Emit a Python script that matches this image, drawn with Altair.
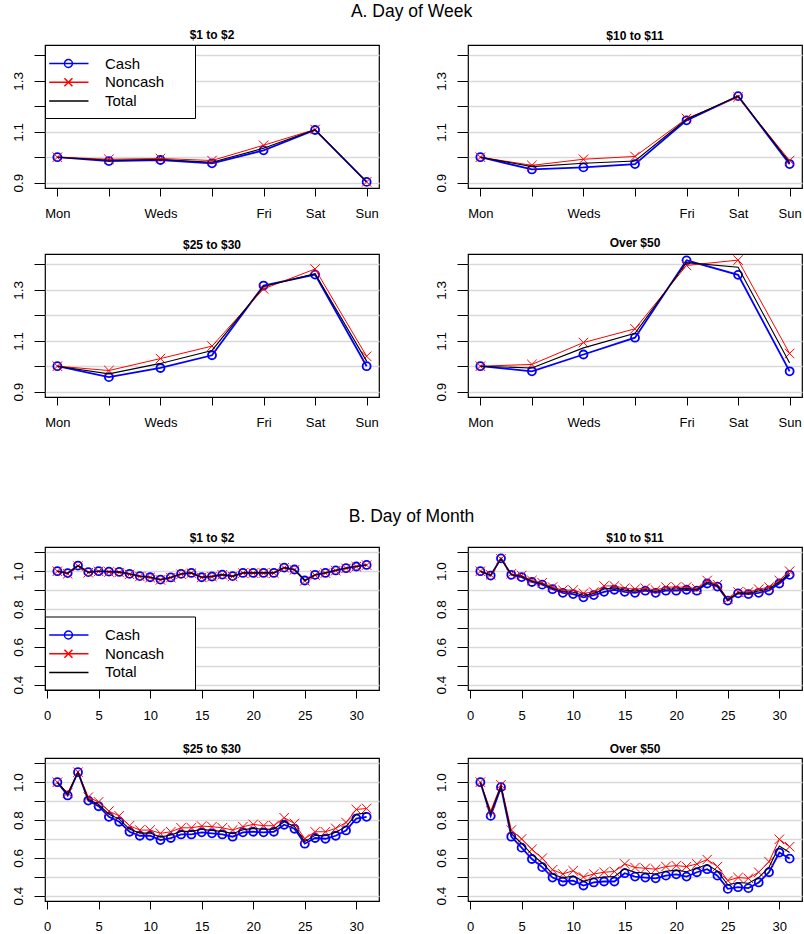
import json

import altair as alt
import pandas as pd

FONT = "Liberation Sans"
BLUE, RED, BLACK = "#0000ff", "#ff0000", "#000000"

SERIES = ["Cash", "Noncash", "Total"]
SERIES_COLORS = [BLUE, RED, BLACK]

# Legend glyphs: a short line with the series marker drawn on it.
LEGEND_GLYPHS = [
    "M-1.68,0L2.94,0M0.11,0A0.47,0.47,0,1,1,1.05,0A0.47,0.47,0,1,1,0.11,0",
    "M-1.68,0L2.94,0M0.11,-0.47L1.05,0.47M0.11,0.47L1.05,-0.47",
    "M-1.68,0L2.94,0",
]
X_MARK = "M-1,-1L1,1M-1,1L1,-1"

WEEK_DAYS = [1, 2, 3, 4, 5, 6, 7]
WEEK_LABELS = ["Mon", "", "Weds", "", "Fri", "Sat", "Sun"]
WEEK_Y_TICKS = [0.9, 1.0, 1.1, 1.2, 1.3, 1.4]
WEEK_Y_SHOWN = [9, 11, 13]

MONTH_DAYS = list(range(1, 32))
MONTH_TICKS = [0, 5, 10, 15, 20, 25, 30]
MONTH_Y_TICKS = [0.4, 0.5, 0.6, 0.7, 0.8, 0.9, 1.0, 1.1]
MONTH_Y_SHOWN = [4, 6, 8, 10]

PANEL_TITLES = ["$1 to $2", "$10 to $11", "$25 to $30", "Over $50"]

# A. Day-of-week index (Monday = 1)
wk_1_2_cash = [1.000, 0.985, 0.989, 0.976, 1.027, 1.107, 0.903]
wk_1_2_noncash = [1.000, 0.992, 0.995, 0.987, 1.047, 1.109, 0.903]
wk_1_2_total = [1.000, 0.988, 0.991, 0.980, 1.035, 1.108, 0.903]

wk_10_11_cash = [1.000, 0.952, 0.960, 0.973, 1.145, 1.240, 0.973]
wk_10_11_noncash = [1.000, 0.968, 0.992, 1.003, 1.152, 1.236, 0.987]
wk_10_11_total = [1.000, 0.963, 0.976, 0.985, 1.149, 1.240, 0.979]

wk_25_30_cash = [1.000, 0.957, 0.993, 1.043, 1.317, 1.360, 1.000]
wk_25_30_noncash = [1.000, 0.983, 1.030, 1.079, 1.304, 1.382, 1.039]
wk_25_30_total = [1.000, 0.970, 1.011, 1.062, 1.313, 1.364, 1.020]

wk_50_cash = [1.000, 0.980, 1.046, 1.112, 1.416, 1.359, 0.980]
wk_50_noncash = [1.000, 1.007, 1.093, 1.147, 1.396, 1.417, 1.050]
wk_50_total = [1.000, 0.993, 1.072, 1.129, 1.407, 1.389, 1.013]

# B. Day-of-month index (day 1 = 1)
mo_1_2_cash = [1.000, 0.990, 1.030, 0.995, 1.000, 0.998, 0.996, 0.986, 0.974, 0.968,
               0.956, 0.967, 0.986, 0.991, 0.968, 0.972, 0.982, 0.974, 0.991, 0.991,
               0.991, 0.991, 1.019, 1.009, 0.951, 0.981, 0.991, 1.004, 1.016, 1.025, 1.033]
mo_1_2_noncash = [1.000, 0.986, 1.027, 0.992, 0.999, 0.996, 0.993, 0.983, 0.972, 0.967,
                  0.954, 0.966, 0.984, 0.990, 0.967, 0.971, 0.981, 0.972, 0.990, 0.990,
                  0.990, 0.990, 1.018, 1.007, 0.949, 0.979, 0.990, 1.003, 1.015, 1.024, 1.032]
mo_1_2_total = [1.000, 0.988, 1.029, 0.994, 1.000, 0.997, 0.995, 0.985, 0.973, 0.968,
                0.955, 0.967, 0.985, 0.991, 0.968, 0.972, 0.982, 0.973, 0.991, 0.991,
                0.991, 0.991, 1.019, 1.008, 0.950, 0.980, 0.991, 1.004, 1.016, 1.025, 1.033]

mo_10_11_cash = [1.000, 0.977, 1.068, 0.981, 0.969, 0.943, 0.929, 0.905, 0.886, 0.879,
                 0.862, 0.874, 0.891, 0.902, 0.891, 0.886, 0.897, 0.886, 0.897, 0.897,
                 0.902, 0.897, 0.935, 0.919, 0.845, 0.883, 0.879, 0.886, 0.898, 0.935, 0.981]
mo_10_11_noncash = [1.000, 0.981, 1.065, 0.986, 0.977, 0.951, 0.939, 0.916, 0.900, 0.900,
                    0.883, 0.890, 0.922, 0.922, 0.910, 0.905, 0.910, 0.900, 0.916, 0.916,
                    0.916, 0.907, 0.951, 0.929, 0.853, 0.890, 0.890, 0.905, 0.916, 0.951, 1.000]
mo_10_11_total = [1.000, 0.979, 1.066, 0.983, 0.973, 0.947, 0.934, 0.910, 0.893, 0.889,
                  0.872, 0.882, 0.906, 0.912, 0.900, 0.895, 0.903, 0.893, 0.906, 0.906,
                  0.909, 0.902, 0.943, 0.924, 0.849, 0.886, 0.884, 0.895, 0.907, 0.943, 0.990]

mo_25_30_cash = [1.000, 0.930, 1.053, 0.903, 0.873, 0.817, 0.791, 0.738, 0.717, 0.717,
                 0.694, 0.705, 0.724, 0.724, 0.735, 0.730, 0.724, 0.712, 0.735, 0.738,
                 0.735, 0.738, 0.775, 0.754, 0.675, 0.705, 0.701, 0.717, 0.745, 0.808, 0.817]
mo_25_30_noncash = [1.000, 0.944, 1.053, 0.921, 0.896, 0.847, 0.822, 0.770, 0.747, 0.747,
                    0.730, 0.738, 0.759, 0.759, 0.768, 0.765, 0.759, 0.747, 0.765, 0.777,
                    0.770, 0.770, 0.812, 0.782, 0.701, 0.738, 0.738, 0.756, 0.787, 0.856, 0.861]
mo_25_30_total = [1.000, 0.937, 1.053, 0.910, 0.882, 0.831, 0.805, 0.752, 0.731, 0.731,
                  0.710, 0.721, 0.740, 0.740, 0.751, 0.745, 0.740, 0.728, 0.749, 0.756,
                  0.751, 0.752, 0.791, 0.766, 0.686, 0.719, 0.717, 0.735, 0.765, 0.831, 0.838]

mo_50_cash = [1.000, 0.822, 0.974, 0.712, 0.654, 0.594, 0.551, 0.496, 0.475, 0.480,
              0.454, 0.470, 0.475, 0.475, 0.519, 0.501, 0.496, 0.492, 0.506, 0.513,
              0.501, 0.524, 0.540, 0.506, 0.436, 0.445, 0.440, 0.470, 0.524, 0.628, 0.596]
mo_50_noncash = [1.000, 0.848, 0.986, 0.747, 0.700, 0.645, 0.598, 0.537, 0.515, 0.532,
                 0.499, 0.515, 0.524, 0.528, 0.568, 0.549, 0.545, 0.540, 0.554, 0.559,
                 0.554, 0.568, 0.591, 0.554, 0.480, 0.496, 0.492, 0.524, 0.580, 0.698, 0.659]
mo_50_total = [1.000, 0.835, 0.980, 0.728, 0.676, 0.618, 0.573, 0.515, 0.494, 0.505,
               0.476, 0.492, 0.499, 0.501, 0.543, 0.524, 0.520, 0.515, 0.529, 0.535,
               0.527, 0.545, 0.565, 0.530, 0.458, 0.470, 0.466, 0.496, 0.551, 0.663, 0.628]

PANEL_W, PANEL_H = 334, 143

X_AXIS_STYLE = dict(
    title=None, domain=False, grid=False, tickSize=8, tickColor="black", tickWidth=1,
    labelFont=FONT, labelFontSize=13, labelColor="black", labelPadding=21,
    labelBaseline="alphabetic", labelAngle=0, labelFlush=False, labelOverlap=False,
)
Y_AXIS_STYLE = dict(
    title=None, domain=False, grid=True, gridColor="#d9d9d9", gridWidth=1.5,
    tickSize=11, tickColor="black", tickWidth=1,
    labelFont=FONT, labelFontSize=13.5, labelColor="black", labelPadding=12,
    labelAngle=270, labelAlign="center", labelBaseline="alphabetic",
    labelFlush=False, labelOverlap=False,
)


def legend_spec(legend_y):
    return alt.Legend(
        title="\u00a0", titleOrient="right", titlePadding=22, titleFontSize=10,
        orient="none", legendX=0, legendY=legend_y, direction="vertical",
        symbolSize=289, symbolStrokeWidth=1.5, symbolOpacity=1,
        labelFont=FONT, labelFontSize=15, labelColor="black", labelOffset=32,
        padding=9, rowPadding=0.7, strokeColor="black", fillColor="white",
    )


def panel(title, days, cash, noncash, total, kind, legend_y=None):
    n = len(days)
    df = pd.DataFrame({
        "day": list(days) * 3,
        "value": cash + noncash + total,
        "series": ["Cash"] * n + ["Noncash"] * n + ["Total"] * n,
    })
    if kind == "week":
        x_scale = alt.Scale(domain=[0.76, 7.24], nice=False, zero=False)
        x_axis = alt.Axis(values=WEEK_DAYS,
                          labelExpr=f"{json.dumps(WEEK_LABELS)}[datum.value - 1]",
                          **X_AXIS_STYLE)
        y_scale = alt.Scale(domain=[0.879, 1.441], nice=False, zero=False)
        y_ticks, shown = WEEK_Y_TICKS, WEEK_Y_SHOWN
    else:
        x_scale = alt.Scale(domain=[-0.2, 32.2], nice=False, zero=False)
        x_axis = alt.Axis(values=MONTH_TICKS, format="d", **X_AXIS_STYLE)
        y_scale = alt.Scale(domain=[0.372, 1.128], nice=False, zero=False)
        y_ticks, shown = MONTH_Y_TICKS, MONTH_Y_SHOWN
    y_axis = alt.Axis(
        values=y_ticks,
        labelExpr=(f"indexof({json.dumps(shown)}, round(datum.value * 10)) >= 0"
                   " ? format(datum.value, '.1f') : ''"),
        **Y_AXIS_STYLE,
    )
    base = alt.Chart(df).encode(
        x=alt.X("day:Q", scale=x_scale, axis=x_axis),
        y=alt.Y("value:Q", scale=y_scale, axis=y_axis),
    )
    cash_d = base.transform_filter("datum.series == 'Cash'")
    non_d = base.transform_filter("datum.series == 'Noncash'")
    tot_d = base.transform_filter("datum.series == 'Total'")
    layers = [
        cash_d.mark_line(color=BLUE, strokeWidth=1.8),
        cash_d.mark_point(shape="circle", filled=False, color=BLUE, size=64,
                          strokeWidth=1.8, opacity=1),
        non_d.mark_line(color=RED, strokeWidth=1),
        non_d.mark_point(shape=X_MARK, filled=False, color=RED, size=90,
                         strokeWidth=1, opacity=1),
        tot_d.mark_line(color=BLACK, strokeWidth=1.1),
    ]
    if legend_y is not None:
        leg = legend_spec(legend_y)
        layers.append(
            base.mark_point(opacity=0, filled=False).encode(
                color=alt.Color("series:N", scale=alt.Scale(domain=SERIES, range=SERIES_COLORS),
                                legend=leg),
                shape=alt.Shape("series:N", scale=alt.Scale(domain=SERIES, range=LEGEND_GLYPHS),
                                legend=leg),
            )
        )
    return alt.layer(*layers).properties(
        width=PANEL_W, height=PANEL_H,
        title=alt.TitleParams(title, font=FONT, fontSize=12, fontWeight="bold",
                              color="black", anchor="middle", frame="group",
                              baseline="alphabetic", offset=-6.5),
    )


def independent(c):
    return c.resolve_scale(color="independent", shape="independent").resolve_legend(
        color="independent", shape="independent")


SP_H, SP_SEC = 53, 78


def section(title, panels, title_offset, row_spacing):
    rows = [independent(alt.hconcat(panels[0], panels[1], spacing=SP_H)),
            independent(alt.hconcat(panels[2], panels[3], spacing=SP_H))]
    return independent(alt.vconcat(
        *rows, spacing=row_spacing,
        title=alt.TitleParams(title, font=FONT, fontSize=17.5, fontWeight="normal",
                              color="black", anchor="middle", offset=title_offset, dx=5),
    ))


week_panels = [
    panel(PANEL_TITLES[0], WEEK_DAYS, wk_1_2_cash, wk_1_2_noncash, wk_1_2_total, "week", 0),
    panel(PANEL_TITLES[1], WEEK_DAYS, wk_10_11_cash, wk_10_11_noncash, wk_10_11_total, "week"),
    panel(PANEL_TITLES[2], WEEK_DAYS, wk_25_30_cash, wk_25_30_noncash, wk_25_30_total, "week"),
    panel(PANEL_TITLES[3], WEEK_DAYS, wk_50_cash, wk_50_noncash, wk_50_total, "week"),
]
month_panels = [
    panel(PANEL_TITLES[0], MONTH_DAYS, mo_1_2_cash, mo_1_2_noncash, mo_1_2_total, "month", 69.5),
    panel(PANEL_TITLES[1], MONTH_DAYS, mo_10_11_cash, mo_10_11_noncash, mo_10_11_total, "month"),
    panel(PANEL_TITLES[2], MONTH_DAYS, mo_25_30_cash, mo_25_30_noncash, mo_25_30_total, "month"),
    panel(PANEL_TITLES[3], MONTH_DAYS, mo_50_cash, mo_50_noncash, mo_50_total, "month"),
]

chart = independent(alt.vconcat(
    section("A. Day of Week", week_panels, 8, 15),
    section("B. Day of Month", month_panels, 5, 18),
    spacing=SP_SEC,
)).properties(
    padding={"left": 10, "top": 2, "right": 0, "bottom": 0},
    background="white",
).configure_view(stroke="black", strokeWidth=1.2)

chart.save("out.html", embed_options={"renderer": "svg", "actions": False})
